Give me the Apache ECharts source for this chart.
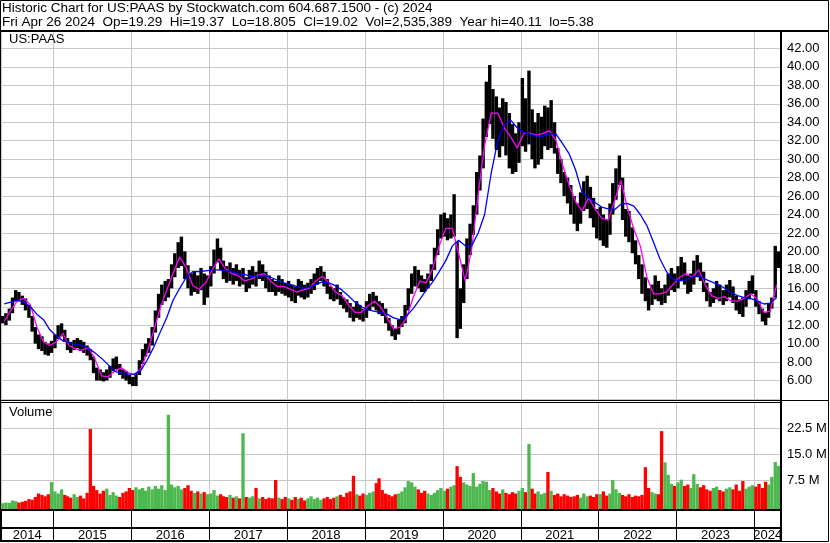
<!DOCTYPE html>
<html><head><meta charset="utf-8">
<script src="https://cdn.jsdelivr.net/npm/echarts@6/dist/echarts.min.js"></script>
<style>html,body{margin:0;padding:0;background:#fff}#c{width:830px;height:543px}</style>
</head><body><div id="c"></div>
<script>
// ---------- texts ----------
const title1 = 'Historic Chart for US:PAAS by Stockwatch.com 604.687.1500 - (c) 2024';
const title2 = 'Fri Apr 26 2024  Op=19.29  Hi=19.37  Lo=18.805  Cl=19.02  Vol=2,535,389  Year hi=40.11  lo=5.38';
const symbolLabel = 'US:PAAS';
const volumeLabel = 'Volume';
const yearLabels = ['2014','2015','2016','2017','2018','2019','2020','2021','2022','2023','2024'];
const priceAxis = {min: 4, max: 44, step: 2};
const volAxis = {min: 0, max: 30, step: 7.5};

// ---------- price: semi-monthly [high, low], starting May 2014 ----------
const hl2014 = [[13.0,12.2],[13.3,12.0],[13.8,12.5],[15.0,13.3],[15.8,14.6],[15.6,14.7],[15.2,14.2],[14.9,13.6],[14.2,12.8],[13.0,11.3],[11.8,10.0],[11.0,9.4],[10.8,9.2],[10.2,8.8],[10.0,8.7],[10.3,9.0]];
const hl2015 = [[11.0,9.5],[12.0,10.5],[12.2,10.8],[11.5,10.2],[10.6,9.3],[10.2,9.0],[10.4,9.3],[10.6,9.5],[10.4,9.2],[10.2,9.0],[9.8,8.7],[9.4,8.2],[8.6,6.8],[7.4,6.0],[7.2,6.0],[6.9,5.9],[7.2,6.0],[7.6,6.3],[8.4,7.0],[8.6,7.2],[7.8,6.6],[7.2,6.2],[7.0,6.0],[6.6,5.6]];
const hl2016 = [[6.4,5.4],[6.8,5.4],[8.2,6.6],[9.4,7.8],[10.0,8.6],[10.6,9.0],[11.8,9.8],[13.6,11.2],[15.4,12.8],[16.4,14.2],[16.8,14.6],[17.0,15.0],[18.6,16.0],[19.8,17.2],[21.0,18.2],[21.6,18.4],[20.0,17.0],[18.5,16.0],[17.6,15.2],[17.8,15.6],[17.4,15.4],[18.2,15.8],[17.6,14.2],[17.4,15.0]];
const hl2017 = [[18.4,16.2],[20.2,17.6],[21.4,18.8],[20.4,18.0],[19.0,17.0],[18.4,16.6],[18.8,16.8],[18.2,16.4],[18.6,16.8],[18.0,16.2],[18.2,16.4],[17.2,15.6],[18.0,16.0],[18.4,16.4],[17.8,16.2],[19.0,17.0],[18.6,16.8],[17.8,16.0],[17.4,15.6],[17.0,15.6],[16.8,15.2],[17.4,15.6],[17.0,15.4],[16.6,15.2]];
const hl2018 = [[16.8,15.0],[16.4,14.6],[16.2,14.4],[17.0,15.2],[16.8,15.0],[16.4,14.8],[16.6,15.0],[17.0,15.4],[17.6,15.8],[18.2,16.4],[18.4,16.8],[17.8,16.2],[17.0,15.4],[16.2,14.8],[16.0,14.6],[16.4,14.8],[15.6,14.2],[15.0,13.8],[14.8,13.4],[14.4,12.8],[14.0,12.4],[14.6,12.8],[14.2,12.6],[13.8,12.4]];
const hl2019 = [[14.6,12.8],[15.4,13.6],[15.6,14.0],[15.2,13.6],[14.6,13.2],[14.4,13.0],[13.8,12.2],[12.8,11.4],[12.0,10.8],[11.6,10.4],[12.6,11.0],[13.0,11.8],[14.2,12.2],[16.0,13.6],[17.6,15.4],[18.4,16.2],[18.0,16.0],[17.4,15.6],[17.0,15.6],[17.6,16.0],[18.6,16.8],[20.4,18.0],[22.4,19.6],[24.0,21.4]];
const hl2020 = [[24.2,21.6],[23.6,21.2],[24.0,21.4],[26.2,21.6],[21.0,10.6],[16.0,11.6],[18.6,14.4],[21.4,17.0],[23.0,19.6],[25.0,21.8],[28.6,24.0],[30.4,26.6],[34.4,29.0],[38.4,32.4],[40.2,33.8],[37.6,32.2],[36.8,31.0],[35.6,30.2],[36.6,31.4],[36.2,30.4],[35.0,29.0],[33.8,28.4],[32.8,28.6],[34.0,29.6]];
const hl2021 = [[38.8,31.4],[36.6,30.8],[39.6,31.6],[35.4,30.0],[34.0,29.0],[35.0,29.4],[34.6,30.0],[35.8,31.4],[35.6,31.0],[36.4,31.2],[34.0,30.6],[31.2,28.4],[30.0,27.4],[28.6,26.0],[28.0,25.2],[27.2,24.0],[26.0,23.0],[25.2,22.2],[26.4,23.0],[27.6,24.4],[28.2,24.6],[27.0,23.6],[25.8,22.6],[24.6,21.4]];
const hl2022 = [[24.8,21.2],[24.0,20.6],[23.4,20.4],[25.2,21.8],[27.4,24.0],[29.0,25.6],[30.4,27.2],[28.0,23.4],[24.6,21.6],[24.4,21.0],[22.6,19.8],[21.2,18.6],[19.6,17.0],[18.6,15.4],[17.2,14.6],[16.0,13.6],[16.4,14.2],[17.4,14.8],[16.8,14.6],[16.0,14.2],[16.4,14.4],[17.6,15.2],[18.2,15.8],[17.6,15.6]];
const hl2023 = [[18.4,16.0],[19.4,16.8],[18.8,16.4],[17.4,15.4],[17.6,15.6],[19.0,16.4],[19.6,17.2],[18.8,16.8],[17.8,15.6],[16.6,14.6],[15.6,14.0],[16.0,14.4],[16.8,14.8],[16.4,14.6],[15.8,14.2],[16.4,14.6],[16.9,15.0],[16.2,14.4],[15.2,13.6],[14.8,13.2],[15.0,12.9],[15.8,14.0],[16.8,14.8],[17.4,15.4]];
const hl2024 = [[15.8,14.0],[14.6,13.2],[13.8,12.4],[13.4,12.0],[14.4,12.8],[15.0,13.8],[20.6,15.0],[20.0,18.2]];

// ---------- volume (millions), same semi-monthly periods ----------
const vol2014 = [0.8,1.0,0.9,1.6,1.4,1.0,1.2,1.5,2.0,1.8,2.6,3.6,3.2,2.8,3.4,6.9];
const vol2015 = [4.2,3.6,4.8,3.2,2.8,2.4,3.4,2.6,3.0,2.2,3.8,22.2,5.8,4.6,3.6,4.4,5.0,3.2,4.0,3.0,2.6,3.8,4.2,5.2];
const vol2016 = [4.6,5.4,4.8,5.2,4.4,5.6,4.8,5.8,5.0,6.0,4.6,26.3,6.2,5.4,5.8,4.8,5.2,6.0,4.4,3.8,4.2,3.6,4.0,3.4];
const vol2017 = [3.6,4.6,3.0,3.4,2.8,2.6,3.2,2.4,2.8,2.2,21.0,2.6,2.4,2.8,5.2,2.2,2.6,2.0,2.4,2.2,7.5,2.4,2.0,2.6];
const vol2018 = [2.2,1.8,2.6,2.0,2.4,1.6,2.2,2.8,2.0,2.4,1.8,2.2,2.6,2.0,2.4,2.8,3.2,2.6,3.8,4.2,8.7,3.4,3.0,3.6];
const vol2019 = [3.2,3.8,4.2,6.6,8.0,4.6,3.6,3.2,2.8,3.4,3.6,4.2,5.4,7.2,6.8,5.6,4.8,3.8,4.4,3.6,3.2,3.8,4.6,5.2];
const vol2020 = [4.4,5.0,5.6,6.0,11.5,8.4,6.8,6.2,5.8,9.5,5.6,6.4,7.2,7.0,4.6,5.2,4.2,3.6,4.8,3.8,3.4,4.0,3.6,4.4];
const vol2021 = [5.2,4.0,17.9,5.0,3.6,4.2,3.4,3.8,9.8,4.4,3.2,3.6,2.8,3.4,3.0,2.6,2.8,3.2,2.4,3.6,2.8,3.0,2.6,3.4];
const vol2022 = [3.4,4.2,3.0,3.6,7.5,4.8,3.8,3.2,2.8,3.4,2.6,3.0,2.8,3.2,11.2,5.2,4.0,3.6,3.4,21.6,12.6,9.0,6.4,5.8];
const vol2023 = [6.8,7.6,5.8,6.2,5.2,9.2,6.4,5.4,6.0,4.8,4.4,5.2,5.6,4.6,4.2,5.0,5.4,4.8,6.2,4.4,7.2,5.0,5.6,6.0];
const vol2024 = [5.6,6.4,5.2,7.0,6.2,8.4,12.7,11.6];

// ---------- moving averages, monthly from May 2014 ----------
const maFast = [12.4,13.6,14.6,14.9,14.2,11.8,10.2,9.8,
  10.2,11.1,9.8,9.4,9.3,9.6,8.3,6.5,6.4,7.0,7.4,6.9,
  6.6,7.3,9.0,11.4,13.8,15.8,17.6,19.4,18.2,16.3,15.9,16.6,
  18.0,19.2,18.2,17.6,17.4,16.8,17.0,17.4,17.6,16.8,16.2,16.2,
  15.9,15.6,15.8,16.0,16.8,17.3,16.6,15.6,15.2,14.2,13.4,13.4,
  14.1,14.6,14.0,12.8,11.6,11.8,12.8,15.0,16.8,16.6,18.2,20.6,
  22.5,22.5,19.8,16.8,20.2,26.2,31.5,35.0,35.0,33.4,32.4,31.2,
  32.8,32.8,32.6,32.8,33.1,32.0,29.4,27.2,25.4,24.4,25.8,24.6,
  23.6,23.4,25.4,27.7,24.8,22.4,20.6,17.2,15.4,15.4,15.6,16.4,
  17.2,17.6,17.2,18.0,16.4,15.2,14.9,15.1,14.6,14.6,14.9,15.4,
  14.8,13.4,13.5,16.4];
const maSlow = [14.3,14.5,14.7,14.5,14.0,13.2,12.6,11.5,
  10.8,10.3,10.1,9.9,9.8,9.5,9.0,8.4,7.7,7.0,6.8,6.7,
  6.7,7.1,8.2,9.6,11.2,12.8,14.7,16.0,17.2,17.8,17.8,17.9,
  18.0,18.0,17.9,17.8,17.6,17.5,17.3,17.3,17.4,17.2,16.9,16.6,
  16.4,16.2,16.0,16.1,16.4,16.7,16.6,16.3,15.8,15.2,14.5,14.0,
  13.7,13.5,13.4,13.2,12.8,12.6,13.0,13.8,14.8,15.8,16.7,17.8,
  19.0,20.6,21.2,20.6,20.6,22.0,24.0,28.5,32.0,33.7,34.2,33.4,
  32.9,32.7,32.5,32.5,32.8,32.7,31.7,30.6,28.8,26.4,25.8,25.3,
  24.8,24.6,24.5,25.1,25.2,24.9,24.0,22.8,21.0,19.2,17.8,17.0,
  16.8,16.9,17.2,17.4,17.0,16.7,16.4,16.0,15.5,15.2,15.0,14.9,
  14.6,14.3,14.4,15.0];

// ---------- build ----------
const X_MIN = Date.UTC(2014,3,30), X_MAX = Date.UTC(2024,4,5);
const bars = [].concat(hl2014,hl2015,hl2016,hl2017,hl2018,hl2019,hl2020,hl2021,hl2022,hl2023,hl2024);
const vols = [].concat(vol2014,vol2015,vol2016,vol2017,vol2018,vol2019,vol2020,vol2021,vol2022,vol2023,vol2024);
const halfMonth = i => Date.UTC(2014, 4 + Math.floor(i/2), i % 2 ? 23 : 8);
const monthMid = i => Date.UTC(2014, 4 + i, 15);
const mid = b => (b[0] + b[1]) / 2;
const priceData = bars.map((b,i) => [halfMonth(i), b[0], b[1]]);
const volData = vols.map((v,i) => [halfMonth(i), v, (i === 0 || mid(bars[i]) >= mid(bars[i-1])) ? 1 : 0]);
const fastData = maFast.map((v,i) => [monthMid(i), v]);
const slowData = maSlow.map((v,i) => [monthMid(i), v]);
const yearData = yearLabels.map(y => {
  const a = Math.max(Date.UTC(+y,0,1), X_MIN), b = Math.min(Date.UTC(+y+1,0,1), X_MAX);
  return [(a+b)/2, 0.5];
});

const FONT = '"Liberation Sans", Arial, sans-serif';
const GRID_C = '#c8c8c8';
const RED = '#ff0000', GREEN = '#4db84d';
const YEAR = 365*86400000;

function timeAxis(gridIndex, splitColor) {
  return {
    type: 'time', gridIndex, min: X_MIN, max: X_MAX,
    minInterval: YEAR, maxInterval: YEAR * 1.01, splitNumber: 10,
    axisLabel: {show: false}, axisTick: {show: false}, axisLine: {show: false},
    splitLine: {show: true, lineStyle: {color: splitColor, width: 1}}
  };
}

const chart = echarts.init(document.getElementById('c'), null, {renderer: 'canvas'});
chart.setOption({
  animation: false,
  backgroundColor: '#fff',
  grid: [
    {left: 1, top: 30, width: 780, height: 369, containLabel: false, outerBoundsMode: 'none'},
    {left: 1, top: 402, width: 780, height: 104, containLabel: false, outerBoundsMode: 'none'},
    {left: 1, top: 510, width: 780, height: 31, containLabel: false, outerBoundsMode: 'none'}
  ],
  xAxis: [timeAxis(0, GRID_C), timeAxis(1, GRID_C), timeAxis(2, '#000')],
  yAxis: [
    {type: 'value', gridIndex: 0, position: 'right', min: priceAxis.min, max: priceAxis.max, interval: priceAxis.step,
     axisLine: {show: false}, axisTick: {show: false},
     axisLabel: {show: true, showMinLabel: false, showMaxLabel: false, margin: 6, color: '#000', fontSize: 13, fontFamily: FONT,
       formatter: v => v.toFixed(2)},
     splitLine: {show: true, lineStyle: {color: GRID_C, width: 1}}},
    {type: 'value', gridIndex: 1, position: 'right', min: volAxis.min, max: volAxis.max, interval: volAxis.step,
     axisLine: {show: false}, axisTick: {show: false},
     axisLabel: {show: true, showMinLabel: false, showMaxLabel: false, margin: 6, color: '#000', fontSize: 13, fontFamily: FONT,
       formatter: v => v.toFixed(1) + ' M'},
     splitLine: {show: true, lineStyle: {color: GRID_C, width: 1}}},
    {type: 'value', gridIndex: 2, min: 0, max: 1, show: false}
  ],
  series: [
    {type: 'custom', xAxisIndex: 0, yAxisIndex: 0, data: priceData, z: 3,
     encode: {x: 0, y: [1, 2]},
     renderItem: (params, api) => {
       const t = api.value(0);
       const p1 = api.coord([t, api.value(1)]), p2 = api.coord([t, api.value(2)]);
       return {type: 'rect', shape: {x: p1[0] - 1.7, y: p1[1], width: 3.4, height: Math.max(1, p2[1] - p1[1])},
               style: {fill: '#000'}};
     }},
    {type: 'line', xAxisIndex: 0, yAxisIndex: 0, data: fastData, showSymbol: false, symbol: 'none', z: 4,
     lineStyle: {color: '#ff00ff', width: 1.3}, itemStyle: {color: '#ff00ff'}},
    {type: 'line', xAxisIndex: 0, yAxisIndex: 0, data: slowData, showSymbol: false, symbol: 'none', z: 5,
     lineStyle: {color: '#0000ff', width: 1.3}, itemStyle: {color: '#0000ff'}},
    {type: 'custom', xAxisIndex: 1, yAxisIndex: 1, data: volData, z: 3, clip: false,
     encode: {x: 0, y: 1},
     renderItem: (params, api) => {
       const t = api.value(0);
       const p = api.coord([t, api.value(1)]), b = api.coord([t, 0]);
       return {type: 'rect', shape: {x: p[0] - 1.65, y: p[1], width: 3.3, height: b[1] - p[1] + 3},
               style: {fill: api.value(2) ? GREEN : RED}};
     }},
    {type: 'custom', xAxisIndex: 2, yAxisIndex: 2, data: yearData, z: 6,
     encode: {x: 0, y: 1},
     renderItem: (params, api) => {
       const p = api.coord([api.value(0), 0]);
       return {type: 'text', x: p[0], y: p[1] - 6,
               style: {text: yearLabels[params.dataIndex], fill: '#000', font: '13px ' + FONT,
                       align: 'center', verticalAlign: 'middle', textAlign: 'center', textVerticalAlign: 'middle'}};
     }}
  ],
  graphic: [
    {type: 'text', x: 2, y: 1, style: {text: title1, fill: '#000', font: '13.5px ' + FONT}, z: 10},
    {type: 'text', x: 2, y: 15, style: {text: title2, fill: '#000', font: '13.5px ' + FONT}, z: 10},
    {type: 'text', x: 9, y: 33, style: {text: symbolLabel, fill: '#000', font: '13px ' + FONT}, z: 10},
    {type: 'text', x: 9, y: 406, style: {text: volumeLabel, fill: '#000', font: '13px ' + FONT}, z: 10},
    {type: 'rect', shape: {x: 0.5, y: 0.5, width: 828, height: 541}, style: {fill: null, stroke: '#000', lineWidth: 1}, z: 20},
    {type: 'line', shape: {x1: 0, y1: 31, x2: 829, y2: 31}, style: {stroke: '#000', lineWidth: 2}, z: 20},
    {type: 'line', shape: {x1: 781, y1: 30, x2: 781, y2: 542}, style: {stroke: '#000', lineWidth: 2}, z: 20},
    {type: 'line', shape: {x1: 0, y1: 400.5, x2: 829, y2: 400.5}, style: {stroke: '#000', lineWidth: 1}, z: 20},
    {type: 'line', shape: {x1: 0, y1: 402.5, x2: 781, y2: 402.5}, style: {stroke: '#000', lineWidth: 1}, z: 20},
    {type: 'line', shape: {x1: 0, y1: 510, x2: 781, y2: 510}, style: {stroke: '#000', lineWidth: 2}, z: 20},
    {type: 'line', shape: {x1: 0, y1: 528, x2: 781, y2: 528}, style: {stroke: '#000', lineWidth: 2}, z: 20},
    {type: 'line', shape: {x1: 0, y1: 541, x2: 781, y2: 541}, style: {stroke: '#000', lineWidth: 2}, z: 20}
  ]
});
</script>
</body></html>
